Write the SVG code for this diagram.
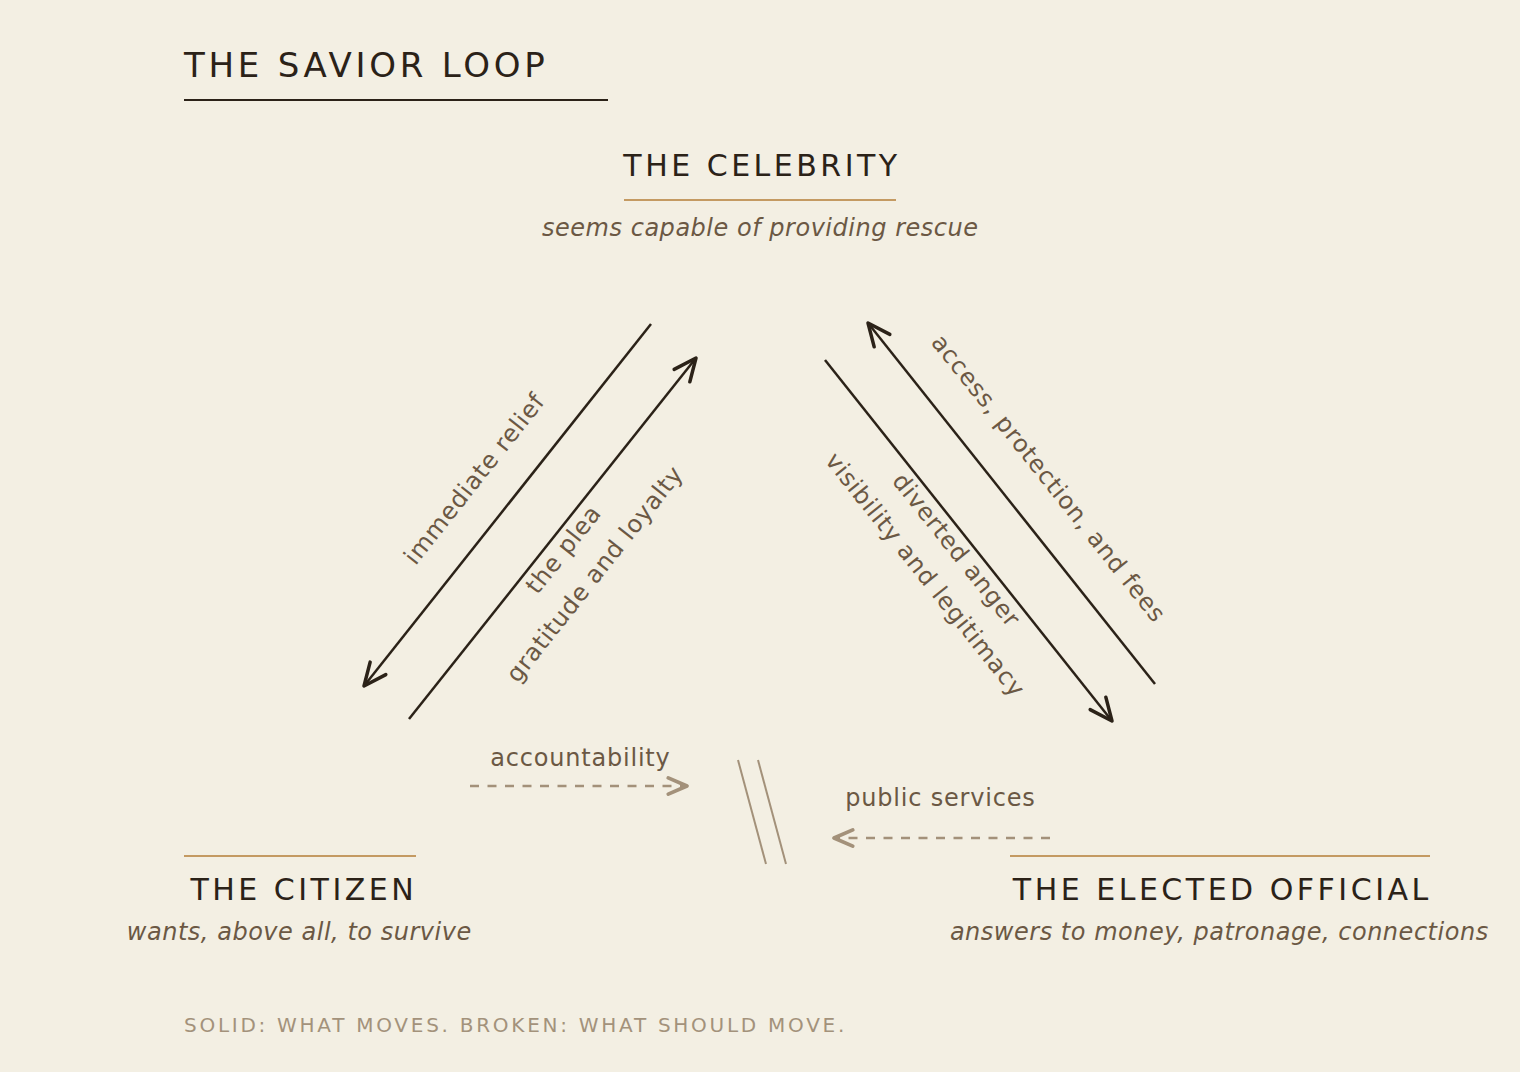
<svg xmlns="http://www.w3.org/2000/svg" width="1520" height="1072" viewBox="0 0 1520 1072">
<defs>
<style>
text{font-family:"DejaVu Sans","Liberation Sans",sans-serif;}
.title{font-size:34px;letter-spacing:3.75px;fill:#2b2218;}
.ntitle{font-size:30px;letter-spacing:3.5px;fill:#2b2218;text-anchor:middle;}
.nsub{font-size:24px;font-style:italic;letter-spacing:0.52px;fill:#6b5844;text-anchor:middle;}
.rule{stroke:#c49a62;stroke-width:2;}
.lbl{font-size:24px;letter-spacing:0.8px;fill:#6b5844;text-anchor:middle;}
.solid{stroke:#2b2218;stroke-width:2.5;fill:none;}
.broken{stroke:#a3917a;stroke-width:2.5;fill:none;stroke-dasharray:9 8.5;}
.foot{font-size:20px;letter-spacing:2.73px;fill:#a3927b;}
</style>
<marker id="ah" markerUnits="userSpaceOnUse" markerWidth="30" markerHeight="30" viewBox="-20 -12 24 24" refX="0" refY="0" orient="auto">
<path d="M-18,-8 L0,0 L-18,8" fill="none" stroke="#2b2218" stroke-width="2.8" stroke-linecap="round" stroke-linejoin="round"/>
</marker>
<marker id="ahb" markerUnits="userSpaceOnUse" markerWidth="30" markerHeight="30" viewBox="-20 -12 24 24" refX="0" refY="0" orient="auto">
<path d="M-15,-6.5 L0,0 L-15,6.5" fill="none" stroke="#a3917a" stroke-width="3" stroke-linecap="round" stroke-linejoin="round"/>
</marker>
</defs>
<rect width="1520" height="1072" fill="#f3efe3"/>

<g id="heading">
<text class="title" x="184" y="77">THE SAVIOR LOOP</text>
<line x1="184" y1="100" x2="608" y2="100" stroke="#2b2218" stroke-width="2"/>
</g>

<g id="node-celebrity">
<text class="ntitle" x="762" y="176">THE CELEBRITY</text>
<line class="rule" x1="624" y1="200" x2="896" y2="200"/>
<text class="nsub" x="760.3" y="236">seems capable of providing rescue</text>
</g>

<g id="node-citizen">
<line class="rule" x1="184" y1="856" x2="416" y2="856"/>
<text class="ntitle" x="303.8" y="900">THE CITIZEN</text>
<text class="nsub" x="299.3" y="940">wants, above all, to survive</text>
</g>

<g id="node-elected">
<line class="rule" x1="1010" y1="856" x2="1430" y2="856"/>
<text class="ntitle" x="1222.3" y="900">THE ELECTED OFFICIAL</text>
<text class="nsub" x="1219.3" y="940">answers to money, patronage, connections</text>
</g>

<g id="connectors">
<line class="solid" x1="651" y1="324" x2="364" y2="686" marker-end="url(#ah)"/>
<line class="solid" x1="409" y1="719" x2="696" y2="358" marker-end="url(#ah)"/>
<line class="solid" x1="1155" y1="684" x2="868" y2="323" marker-end="url(#ah)"/>
<line class="solid" x1="825" y1="360" x2="1112" y2="721" marker-end="url(#ah)"/>
<line class="broken" x1="470" y1="786" x2="687" y2="786" marker-end="url(#ahb)"/>
<line class="broken" x1="1050" y1="838" x2="834" y2="838" marker-end="url(#ahb)"/>
<line x1="738" y1="760" x2="766" y2="864" stroke="#a3917a" stroke-width="2"/>
<line x1="758" y1="760" x2="786" y2="864" stroke="#a3917a" stroke-width="2"/>
</g>

<g id="connector-labels">
<text class="lbl" transform="translate(480.8,483.9) rotate(-51.6)">immediate relief</text>
<text class="lbl" transform="translate(569.9,554.4) rotate(-51.6)">the plea</text>
<text class="lbl" transform="translate(601,579) rotate(-51.6)">gratitude and loyalty</text>
<text class="lbl" transform="translate(1042.3,483.4) rotate(51.5)">access, protection, and fees</text>
<text class="lbl" transform="translate(950.1,555.1) rotate(51.5)">diverted anger</text>
<text class="lbl" transform="translate(919,579.9) rotate(51.5)">visibility and legitimacy</text>
<text class="lbl" x="580.4" y="766">accountability</text>
<text class="lbl" x="940.4" y="806">public services</text>
</g>

<text class="foot" x="184" y="1032">SOLID: WHAT MOVES. BROKEN: WHAT SHOULD MOVE.</text>
</svg>
